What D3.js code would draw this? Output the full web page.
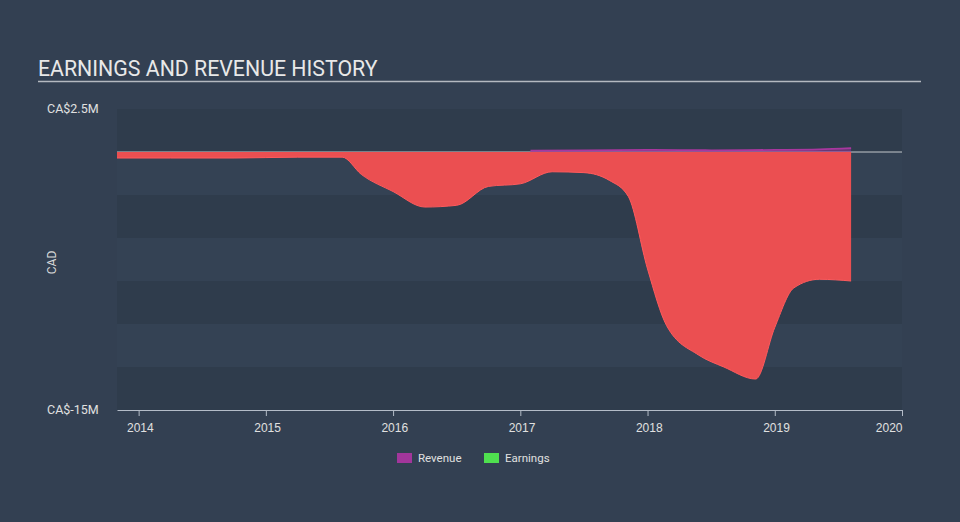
<!DOCTYPE html>
<html>
<head>
<meta charset="utf-8">
<script src="https://cdnjs.cloudflare.com/ajax/libs/d3/7.8.5/d3.min.js"></script>
<style>
  html, body { margin: 0; padding: 0; background: #334052; }
  svg { display: block; font-family: Roboto, "Noto Sans", sans-serif; }
</style>
</head>
<body>
<div id="chart"></div>
<script>
// values in millions of CAD, dates as decimal years
const earnDates = [2013.83, 2014.25, 2014.75, 2015.25, 2015.6, 2015.75, 2016.0, 2016.25, 2016.5, 2016.75,
  2017.0, 2017.25, 2017.5, 2017.7, 2017.85, 2018.0, 2018.15, 2018.4, 2018.6, 2018.85, 2019.0, 2019.15, 2019.35, 2019.6];
const earnValues = [-0.35, -0.35, -0.35, -0.3, -0.3, -1.3, -2.3, -3.2, -3.1, -2.0,
  -1.85, -1.15, -1.2, -1.65, -2.6, -6.8, -10.1, -11.8, -12.5, -13.2, -10.2, -7.9, -7.4, -7.5];
const revDates = [2017.08, 2017.5, 2018.0, 2018.5, 2019.0, 2019.35, 2019.6];
const revValues = [0.08, 0.1, 0.12, 0.1, 0.12, 0.15, 0.22];
const yTicks = [2.5, 0, -2.5, -5, -7.5, -10, -12.5, -15];
const yLabels = ["CA$2.5M", "CA$-15M"];
const xTicks = [2014, 2015, 2016, 2017, 2018, 2019, 2020];
const legendNames = ["Revenue", "Earnings"];
const legendColors = ["#a2369b", "#4fe04f"];

const W = 960, H = 522;
const m = { left: 117, right: 902, top: 109, bottom: 410 };

const svg = d3.select("#chart").append("svg")
  .attr("width", W).attr("height", H);

svg.append("rect").attr("width", W).attr("height", H).attr("fill", "#334052");

const x = d3.scaleLinear().domain([2013.83, 2020]).range([m.left, m.right]);
const y = d3.scaleLinear().domain([-15, 2.5]).range([m.bottom, m.top]);

// title
svg.append("text")
  .attr("x", 38).attr("y", 76)
  .attr("fill", "#e8e8e8")
  .style("font-size", "21.3px")
  .text("EARNINGS AND REVENUE HISTORY");
svg.append("line")
  .attr("x1", 38).attr("x2", 921).attr("y1", 81.5).attr("y2", 81.5)
  .attr("stroke", "#b4b9c0").attr("stroke-width", 1.5);

// bands
const bands = d3.pairs(yTicks);
svg.append("g").selectAll("rect")
  .data(bands)
  .join("rect")
  .attr("x", m.left).attr("width", m.right - m.left)
  .attr("y", d => y(d[0]))
  .attr("height", d => y(d[1]) - y(d[0]))
  .attr("fill", (d, i) => i % 2 == 0 ? "#2f3c4c" : "#344254");

// zero line
svg.append("line")
  .attr("x1", m.left).attr("x2", m.right)
  .attr("y1", y(0)).attr("y2", y(0))
  .attr("stroke", "#c3c7cc").attr("stroke-width", 1.2);

// earnings area
const earn = earnDates.map((d, i) => ({ x: d, y: earnValues[i] }));
const curve = d3.curveMonotoneX;
svg.append("path")
  .datum(earn)
  .attr("d", d3.area().curve(curve)
    .x(d => x(d.x)).y0(y(0)).y1(d => y(d.y)))
  .attr("fill", "#eb4f51");
svg.append("path")
  .datum(earn)
  .attr("d", d3.line().curve(curve).x(d => x(d.x)).y(d => y(d.y)))
  .attr("fill", "none")
  .attr("stroke", "#ff5a5c")
  .attr("stroke-width", 1);

// revenue
const rev = revDates.map((d, i) => ({ x: d, y: revValues[i] }));
svg.append("path")
  .datum(rev)
  .attr("d", d3.area().curve(curve)
    .x(d => x(d.x)).y0(y(0)).y1(d => y(d.y)))
  .attr("fill", "#a2369b").attr("fill-opacity", 0.5);
svg.append("path")
  .datum(rev)
  .attr("d", d3.line().curve(curve).x(d => x(d.x)).y(d => y(d.y)))
  .attr("fill", "none")
  .attr("stroke", "#a8379f")
  .attr("stroke-width", 1.8);

// x axis
const xAxis = d3.axisBottom(x).tickValues(xTicks).tickFormat(d3.format("d")).tickSize(6).tickSizeOuter(0);
const gx = svg.append("g")
  .attr("transform", "translate(0," + m.bottom + ")")
  .call(xAxis);
gx.select(".domain").attr("stroke", "#b4bcc8");
gx.selectAll(".tick line").attr("stroke", "#b4bcc8");
gx.selectAll(".tick text")
  .attr("fill", "#e0e0e0")
  .attr("dy", "1.05em")
  .style("font-size", "12px")
  .attr("text-anchor", d => d == 2020 ? "end" : "middle")
  .attr("dx", d => d == 2020 ? 0 : "0.1em");

// y labels
svg.append("g").selectAll("text")
  .data([yTicks[0], yTicks[yTicks.length - 1]])
  .join("text")
  .attr("x", 47).attr("y", d => y(d))
  .attr("dy", "0.35em")
  .attr("fill", "#e0e0e0")
  .style("font-size", "12.5px")
  .text((d, i) => yLabels[i]);

svg.append("text")
  .attr("transform", "translate(52," + ((m.top + m.bottom) / 2 + 3) + ") rotate(-90)")
  .attr("text-anchor", "middle")
  .attr("dy", "0.35em")
  .attr("fill", "#d8d8d8")
  .style("font-size", "12px")
  .text("CAD");

// legend
const lg = svg.append("g").selectAll("g")
  .data(legendNames)
  .join("g")
  .attr("transform", (d, i) => "translate(" + (397 + i * 87) + ",453)");
lg.append("rect").attr("width", 15).attr("height", 10)
  .attr("fill", (d, i) => legendColors[i]);
lg.append("text")
  .attr("x", 21).attr("y", 5).attr("dy", "0.35em")
  .attr("fill", "#e0e0e0")
  .style("font-size", "11.5px")
  .text(d => d);
</script>
</body>
</html>
